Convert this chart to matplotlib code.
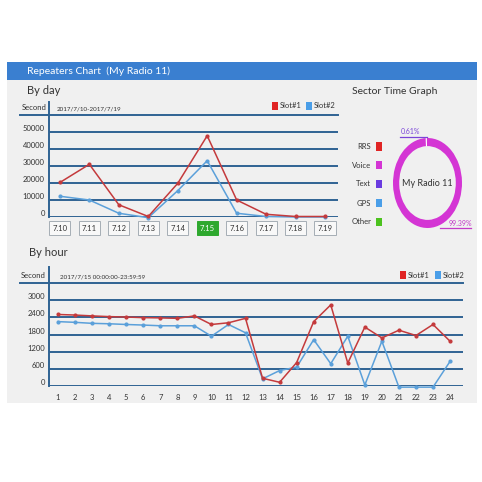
import matplotlib
matplotlib.use('Agg')
import matplotlib.pyplot as plt
from matplotlib.patches import Rectangle
from matplotlib.lines import Line2D

plt.rcParams['font.family'] = ['Lato', 'DejaVu Sans']

# ---- data ----
days = ['7.10', '7.11', '7.12', '7.13', '7.14', '7.15', '7.16', '7.17', '7.18', '7.19']
day_slot1 = [20300, 31000, 7200, 300, 19800, 47800, 10000, 1600, 300, 300]
day_slot2 = [12200, 10000, 2200, -400, 15500, 33100, 2200, 300, 0, 0]
day_ticks = [0, 10000, 20000, 30000, 40000, 50000]

hours = list(range(1, 25))
hour_slot1 = [2500, 2480, 2450, 2425, 2410, 2390, 2380, 2365, 2450, 2150, 2210, 2365,
              270, 130, 820, 2250, 2835, 800, 2060, 1680, 1950, 1765, 2150, 1565]
hour_slot2 = [2250, 2225, 2190, 2175, 2150, 2130, 2105, 2105, 2105, 1740, 2150, 1860,
              250, 540, 660, 1620, 780, 1740, 35, 1565, -40, -40, -40, 860]
hour_ticks = [0, 600, 1200, 1800, 2400, 3000]

sector_names = ['RRS', 'Voice', 'Text', 'GPS', 'Other']
sector_colors = ['#e02424', '#d435d4', '#6a3be0', '#4a9ee8', '#4cc21e']
ring_values = [0.61, 99.39]

W = 482.0
GRID = '#2f6393'
RED = '#c43a3c'
BLUE = '#5ba0da'
TXT = '#333333'


def fx(x):
    return x / W


def fy(y):
    return 1 - y / W


fig = plt.figure(figsize=(4.82, 4.82), dpi=100)
fig.patch.set_facecolor('white')

# panel and header
fig.patches.append(Rectangle((fx(7), fy(403)), fx(470), (403 - 62) / W,
                             transform=fig.transFigure, fc='#f0f0f0', ec='none', zorder=-2))
fig.patches.append(Rectangle((fx(7), fy(80)), fx(470), 18 / W,
                             transform=fig.transFigure, fc='#3a7fd0', ec='none', zorder=-1))
fig.text(fx(27), fy(71), 'Repeaters Chart  (My Radio 11)', color='white', fontsize=7.5, va='center')
fig.text(fx(27), fy(91), 'By day', color=TXT, fontsize=8, va='center')
fig.text(fx(352), fy(91), 'Sector Time Graph', color=TXT, fontsize=7.5, va='center')
fig.text(fx(29), fy(253), 'By hour', color=TXT, fontsize=8, va='center')


def legend(x1, x2, y):
    for xx, col, lab in [(x1, '#e02424', 'Slot#1'), (x2, '#4a9ee8', 'Slot#2')]:
        fig.patches.append(Rectangle((fx(xx), fy(y + 4)), 6 / W, 8 / W,
                                     transform=fig.transFigure, fc=col, ec='none'))
        fig.text(fx(xx + 8), fy(y), lab, color=TXT, fontsize=5.5, va='center')


def chart(ax, x, s1, s2, ticks, top, xlim, top_ext, vline_ext, date):
    ax.set_facecolor('none')
    for sp in ax.spines.values():
        sp.set_visible(False)
    ax.set_xlim(*xlim)
    ax.set_ylim(0, top)
    for t in ticks:
        ax.axhline(t, color=GRID, lw=1.4, zorder=1)
    ax.axhline(top, xmin=top_ext, xmax=1, color=GRID, lw=1.4, clip_on=False, zorder=1)
    ax.axvline(xlim[0], ymin=0, ymax=vline_ext, color=GRID, lw=1.4, clip_on=False, zorder=1)
    ax.set_yticks(ticks, [str(t) for t in ticks])
    ax.tick_params(axis='y', length=0, pad=3, labelsize=5.5, labelcolor=TXT)
    for lb in ax.get_yticklabels():
        lb.set_va('bottom')
    ax.text(-0.008, 1.035, 'Second', transform=ax.transAxes, ha='right', va='bottom',
            fontsize=5.5, color=TXT)
    ax.text(0.027, 1.035, date, transform=ax.transAxes, ha='left', va='bottom',
            fontsize=4.5, color=TXT)
    ax.plot(x, s1, color=RED, lw=1.1, marker='o', ms=2, clip_on=False, zorder=3)
    ax.plot(x, s2, color=BLUE, lw=1.1, marker='o', ms=2, clip_on=False, zorder=2)


# ---- by day ----
ax1 = fig.add_axes([fx(49), fy(217), 289 / W, 102 / W])
dx = list(range(len(days)))
chart(ax1, dx, day_slot1, day_slot2, day_ticks, 60000, (-0.37, 9.44),
      (20 - 49) / 289, (217 - 102) / 102, '2017/7/10-2017/7/19')
ax1.set_xticks([])
for i, d in enumerate(days):
    sel = d == '7.15'
    ax1.text(i, -0.108, d, transform=ax1.get_xaxis_transform(), ha='center', va='center',
             fontsize=5.5, color='white' if sel else TXT,
             bbox=dict(boxstyle='square,pad=0.4', fc='#2ea82e' if sel else '#f8f8f8',
                       ec='#2ea82e' if sel else '#a5adb5', lw=0.7))
legend(272, 306, 106)

# ---- by hour ----
ax2 = fig.add_axes([fx(49), fy(386), 414 / W, 103 / W])
chart(ax2, hours, hour_slot1, hour_slot2, hour_ticks, 3600, (0.47, 24.76),
      (20 - 49) / 414, (386 - 267) / 103, '2017/7/15 00:00:00-23:59:59')
ax2.set_xticks(hours, [str(h) for h in hours])
ax2.tick_params(axis='x', length=0, pad=6, labelsize=5.5, labelcolor=TXT)
legend(400, 435, 275)

# ---- sector ring ----
ax3 = fig.add_axes([fx(393), fy(228), 69 / W, 90 / W])
ax3.pie(ring_values, colors=['#ffffff', '#d435d4'], startangle=91, counterclock=True,
        radius=1, wedgeprops=dict(width=0.18, edgecolor='none'))
ax3.set_aspect('auto')
ax3.set_xlim(-1, 1)
ax3.set_ylim(-1, 1)
ax3.text(0, 0, 'My Radio 11', ha='center', va='center', fontsize=6.5, color=TXT)

fig.text(fx(410), fy(132), '0.61%', color='#7a45d8', fontsize=5, ha='center', va='center')
fig.add_artist(Line2D([fx(400), fx(427)], [fy(137), fy(137)], color='#7a45d8', lw=0.9))
fig.text(fx(460), fy(223), '99.39%', color='#c43ac8', fontsize=5, ha='center', va='center')
fig.add_artist(Line2D([fx(440), fx(471)], [fy(228), fy(228)], color='#c43ac8', lw=0.9))

ys = [146.5, 165, 184, 203, 222]
for name, col, y in zip(sector_names, sector_colors, ys):
    fig.text(fx(371), fy(y), name, ha='right', va='center', fontsize=5.5, color=TXT)
    fig.patches.append(Rectangle((fx(376), fy(y + 4)), 6 / W, 8 / W,
                                 transform=fig.transFigure, fc=col, ec='none'))

fig.savefig('out.png', dpi=100)
